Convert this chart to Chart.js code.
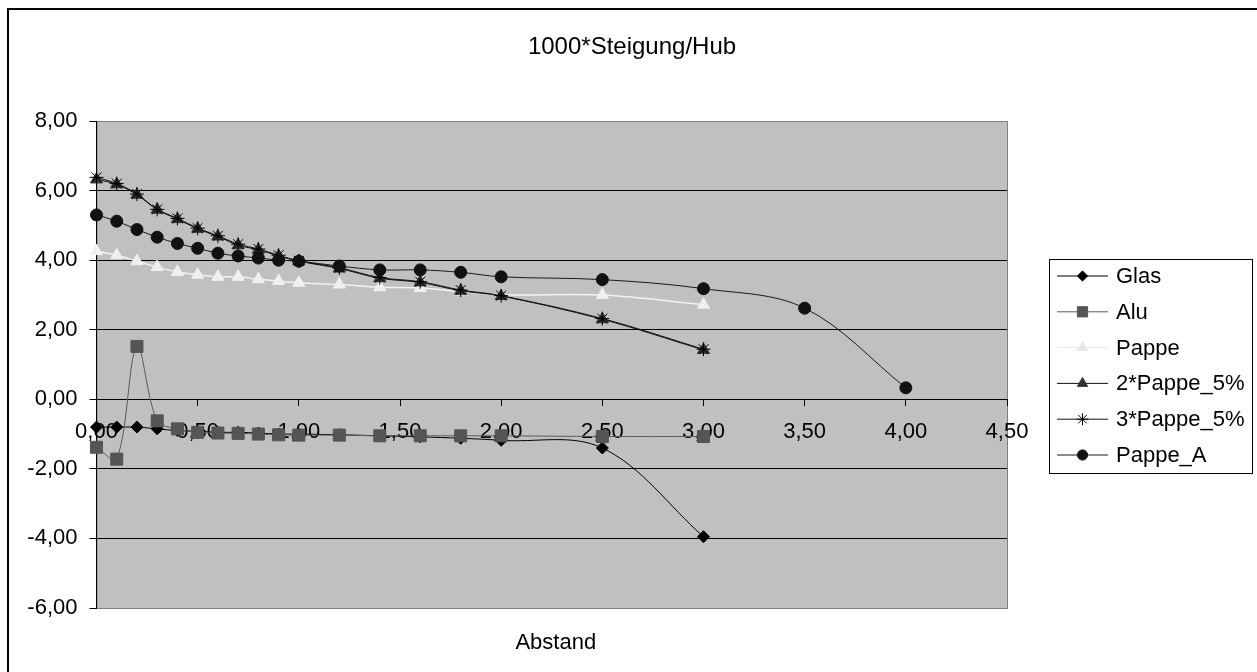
<!DOCTYPE html>
<html>
<head>
<meta charset="utf-8">
<title>1000*Steigung/Hub</title>
<script src="https://cdn.jsdelivr.net/npm/chart.js@4.4.1/dist/chart.umd.min.js"></script>
<style>
  html, body { margin: 0; padding: 0; background: #fff; }
  #wrap { width: 1257px; height: 672px; position: relative; }
</style>
</head>
<body>
<div id="wrap"><canvas id="chart"></canvas></div>
<script>
// Abstand (x) values; Pappe_A was measured two steps further
const abstand = [0, 0.1, 0.2, 0.3, 0.4, 0.5, 0.6, 0.7, 0.8, 0.9, 1.0, 1.2, 1.4, 1.6, 1.8, 2.0, 2.5, 3.0];
const abstandA = [0, 0.1, 0.2, 0.3, 0.4, 0.5, 0.6, 0.7, 0.8, 0.9, 1.0, 1.2, 1.4, 1.6, 1.8, 2.0, 2.5, 3.0, 3.5, 4.0];

const glas = [-0.80, -0.80, -0.80, -0.85, -0.90, -0.92, -0.95, -0.95, -0.97, -1.00, -1.00, -1.02, -1.05, -1.08, -1.12, -1.18, -1.40, -3.95];
const alu = [-1.38, -1.72, 1.52, -0.62, -0.85, -0.95, -0.97, -0.98, -1.00, -1.02, -1.03, -1.03, -1.05, -1.05, -1.05, -1.05, -1.07, -1.07];
const pappe = [4.26, 4.14, 3.97, 3.80, 3.66, 3.58, 3.52, 3.52, 3.45, 3.40, 3.35, 3.30, 3.22, 3.20, 3.10, 3.00, 3.00, 2.72];
const pappe2x5 = [6.32, 6.18, 5.88, 5.45, 5.18, 4.90, 4.68, 4.43, 4.30, 4.12, 3.97, 3.76, 3.48, 3.36, 3.12, 2.97, 2.30, 1.42];
const pappe3x5 = [6.38, 6.20, 5.90, 5.46, 5.20, 4.92, 4.70, 4.46, 4.32, 4.14, 3.98, 3.78, 3.50, 3.38, 3.14, 2.98, 2.32, 1.44];
const pappeA = [5.30, 5.12, 4.88, 4.66, 4.48, 4.34, 4.20, 4.12, 4.06, 4.00, 3.97, 3.83, 3.72, 3.72, 3.65, 3.52, 3.44, 3.18, 2.62, 0.33];

const seriesNames = ['Glas', 'Alu', 'Pappe', '2*Pappe_5%', '3*Pappe_5%', 'Pappe_A'];
const chartTitle = '1000*Steigung/Hub';
const xTitle = 'Abstand';
const yMin = -6, yMax = 8, yStep = 2;
const xMin = 0, xMax = 4.5, xStep = 0.5;

const FONT = "'Liberation Sans', Arial, sans-serif";

function toPoints(xs, ys) {
    return ys.map((y, i) => ({ x: xs[i], y: y }));
}

function fmt(v) {
    return v.toFixed(2).replace('.', ',');
}

const styles = [
    { line: '#000000', fill: '#000000', shape: 'rectRot', r: 6, w: 1 },
    { line: '#5a5a5a', fill: '#555555', shape: 'rect', r: 8.5, w: 1 },
    { line: '#f2f2f2', fill: '#f0f0f0', shape: 'triangle', r: 7, w: 1.5 },
    { line: '#111111', fill: '#333333', shape: 'triangle', r: 7, w: 1 },
    { line: '#111111', fill: '#000000', shape: 'star', r: 7, w: 1 },
    { line: '#1a1a1a', fill: '#111111', shape: 'circle', r: 6, w: 1 }
];

const values = [glas, alu, pappe, pappe2x5, pappe3x5, pappeA];
const xsFor = [abstand, abstand, abstand, abstand, abstand, abstandA];

const datasets = values.map((ys, i) => ({
    label: seriesNames[i],
    data: toPoints(xsFor[i], ys),
    borderColor: styles[i].line,
    borderWidth: styles[i].w,
    backgroundColor: styles[i].fill,
    pointStyle: styles[i].shape,
    pointRadius: styles[i].r,
    pointHoverRadius: styles[i].r,
    pointBackgroundColor: styles[i].fill,
    pointBorderColor: styles[i].shape === 'star' ? '#000000' : styles[i].fill,
    pointBorderWidth: 1,
    tension: 0.35,
    clip: false,
    order: values.length - 1 - i
}));

// white page, grey plot area, outer frame, titles and boxed legend
const decor = {
    id: 'decor',
    beforeDraw(chart) {
        const { ctx, chartArea: a } = chart;
        ctx.save();
        ctx.fillStyle = '#ffffff';
        ctx.fillRect(0, 0, chart.width, chart.height);
        ctx.fillStyle = '#c0c0c0';
        ctx.fillRect(a.left, a.top, a.right - a.left, a.bottom - a.top);
        ctx.strokeStyle = '#808080';
        ctx.lineWidth = 1;
        ctx.strokeRect(a.left + 0.5, a.top + 0.5, a.right - a.left, a.bottom - a.top);
        ctx.strokeStyle = '#000000';
        ctx.lineWidth = 2;
        ctx.strokeRect(8, 9, chart.width + 40, chart.height + 40);
        ctx.restore();
    },
    afterDraw(chart) {
        const { ctx, chartArea: a } = chart;
        ctx.save();
        ctx.fillStyle = '#000000';
        ctx.textAlign = 'center';
        ctx.textBaseline = 'middle';
        ctx.font = '24px ' + FONT;
        ctx.fillText(chartTitle, 632, 47);
        ctx.font = '22px ' + FONT;
        ctx.fillText(xTitle, (a.left + a.right) / 2 + 4, 643);

        // legend
        const bx = 1049.5, by = 259.5, bw = 203, bh = 214;
        ctx.fillStyle = '#ffffff';
        ctx.fillRect(bx, by, bw, bh);
        ctx.strokeStyle = '#000000';
        ctx.lineWidth = 1;
        ctx.strokeRect(bx, by, bw, bh);
        chart.data.datasets.forEach((ds, i) => {
            const y = 276 + i * 35.8;
            const pale = i === 2 ? '#e8e8e8' : null;
            ctx.strokeStyle = pale || ds.borderColor;
            ctx.lineWidth = 1;
            ctx.beginPath();
            ctx.moveTo(1057, y);
            ctx.lineTo(1108, y);
            ctx.stroke();
            ctx.fillStyle = pale || ds.pointBackgroundColor;
            ctx.strokeStyle = pale || ds.pointBorderColor;
            Chart.helpers.drawPoint(ctx, {
                pointStyle: ds.pointStyle,
                radius: ds.pointRadius * 0.85,
                rotation: 0,
                borderWidth: 1
            }, 1082.5, y);
            ctx.fillStyle = '#000000';
            ctx.textAlign = 'left';
            ctx.textBaseline = 'middle';
            ctx.fillText(ds.label, 1116, y + 1);
        });
        ctx.restore();
    }
};

const ctx = document.getElementById('chart').getContext('2d');
new Chart(ctx, {
    type: 'line',
    data: { datasets: datasets },
    plugins: [decor],
    options: {
        responsive: true,
        maintainAspectRatio: false,
        animation: false,
        layout: { padding: { left: 10, top: 121, right: 250, bottom: 64 } },
        plugins: {
            legend: { display: false },
            tooltip: { enabled: false },
            title: { display: false }
        },
        scales: {
            x: {
                type: 'linear',
                position: { y: 0 },
                min: xMin,
                max: xMax,
                ticks: {
                    stepSize: xStep,
                    color: '#000000',
                    padding: 13,
                    maxRotation: 0,
                    font: { family: FONT, size: 22 },
                    callback: v => fmt(v)
                },
                grid: {
                    drawOnChartArea: false,
                    drawTicks: true,
                    tickLength: 6,
                    color: '#000000'
                },
                border: { display: true, color: '#000000', width: 1 }
            },
            y: {
                type: 'linear',
                min: yMin,
                max: yMax,
                afterFit: s => { s.width = 86.5; },
                ticks: {
                    stepSize: yStep,
                    color: '#000000',
                    padding: 12,
                    font: { family: FONT, size: 22 },
                    callback: v => fmt(v)
                },
                grid: {
                    color: c => (c.tick && (c.tick.value === yMin || c.tick.value === yMax)) ? '#808080' : '#000000',
                    tickColor: '#000000',
                    tickLength: 7,
                    lineWidth: 1
                },
                border: { display: true, color: '#000000', width: 1 }
            }
        }
    }
});
</script>
</body>
</html>
